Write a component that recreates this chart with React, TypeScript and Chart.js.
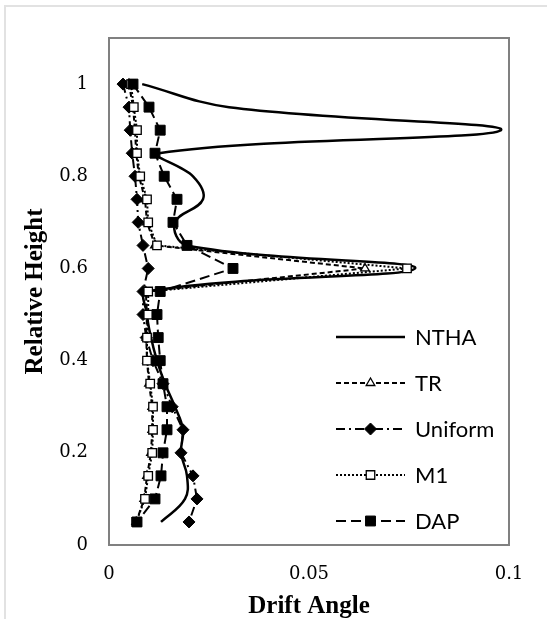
import React, { useEffect, useRef } from 'react';
import { Chart, registerables } from 'chart.js';
import { drawPoint } from 'chart.js/helpers';

Chart.register(...registerables);

// Relative heights (top to bottom)
const HEIGHTS = [1.0, 0.95, 0.9, 0.85, 0.8, 0.75, 0.7, 0.65, 0.6, 0.55, 0.5, 0.45, 0.4, 0.35, 0.3, 0.25, 0.2, 0.15, 0.1, 0.05];

// Drift angle per series
const NTHA = [0.0083, 0.030, 0.098, 0.0125, 0.021, 0.0235, 0.0165, 0.0195, 0.0765, 0.0095, 0.0095, 0.0105, 0.012, 0.014, 0.0165, 0.0185, 0.018, 0.0195, 0.019, 0.013];
const TR = [0.005, 0.006, 0.0065, 0.0068, 0.0075, 0.009, 0.0095, 0.0115, 0.064, 0.0092, 0.0095, 0.0093, 0.0095, 0.01, 0.0108, 0.0108, 0.0105, 0.0095, 0.0088, 0.0068];
const UNIFORM = [0.0035, 0.005, 0.0053, 0.0058, 0.0065, 0.007, 0.0073, 0.0085, 0.0098, 0.0085, 0.0085, 0.0093, 0.011, 0.0135, 0.0158, 0.0185, 0.018, 0.021, 0.022, 0.02];
const M1 = [0.0055, 0.0062, 0.007, 0.007, 0.0078, 0.0095, 0.0098, 0.012, 0.0745, 0.0098, 0.0098, 0.0095, 0.0095, 0.0103, 0.011, 0.011, 0.0108, 0.0098, 0.009, 0.0068];
const DAP = [0.006, 0.01, 0.0128, 0.0115, 0.0138, 0.017, 0.016, 0.0195, 0.031, 0.0128, 0.012, 0.0123, 0.0128, 0.0135, 0.0145, 0.0145, 0.0135, 0.013, 0.0115, 0.007];

const SERIES_NAMES = ['NTHA', 'TR', 'Uniform', 'M1', 'DAP'];
const X_TICKS = [0, 0.05, 0.1];
const Y_TICKS = [0, 0.2, 0.4, 0.6, 0.8, 1];
const X_TITLE = 'Drift Angle';
const Y_TITLE = 'Relative Height';

const toPts = (vals: number[]) => HEIGHTS.map((h, i) => ({ x: vals[i], y: h }));

const framePlugin = {
  id: 'frameBox',
  afterDraw(chart: any) {
    const { ctx, chartArea: a } = chart;
    ctx.save();
    ctx.strokeStyle = '#808080';
    ctx.lineWidth = 2;
    ctx.setLineDash([]);
    ctx.strokeRect(a.left, a.top, a.right - a.left, a.bottom - a.top);
    ctx.restore();
  },
};

const legendPlugin = {
  id: 'insideLegend',
  afterDraw(chart: any) {
    const { ctx, chartArea: a } = chart;
    const x0 = a.right - 173;
    const x1 = a.right - 104;
    const tx = a.right - 94;
    const y0 = a.top + 299;
    const step = 46;
    chart.data.datasets.forEach((ds: any, i: number) => {
      const y = y0 + i * step;
      ctx.save();
      ctx.strokeStyle = ds.borderColor;
      ctx.lineWidth = ds.borderWidth;
      ctx.setLineDash(ds.borderDash || []);
      ctx.beginPath();
      ctx.moveTo(x0, y);
      ctx.lineTo(x1, y);
      ctx.stroke();
      ctx.restore();
      if (ds.pointRadius > 0) {
        ctx.save();
        ctx.setLineDash([]);
        ctx.fillStyle = ds.pointBackgroundColor;
        ctx.strokeStyle = ds.pointBorderColor;
        ctx.lineWidth = ds.pointBorderWidth;
        drawPoint(ctx, { pointStyle: ds.pointStyle, radius: ds.pointRadius, borderWidth: ds.pointBorderWidth, rotation: 0 } as any, (x0 + x1) / 2, y);
        ctx.restore();
      }
      ctx.save();
      ctx.fillStyle = '#000';
      ctx.font = '22px Lato';
      ctx.textBaseline = 'middle';
      ctx.textAlign = 'left';
      ctx.fillText(ds.label, tx, y + 1);
      ctx.restore();
    });
  },
};

export default function App() {
  const ref = useRef<HTMLCanvasElement | null>(null);

  useEffect(() => {
    if (!ref.current) return;
    const datasets: any[] = [
      {
        label: SERIES_NAMES[0], data: toPts(NTHA), showLine: true, tension: 0.4,
        borderColor: '#000', borderWidth: 2.5, pointRadius: 0, order: 4,
      },
      {
        label: SERIES_NAMES[1], data: toPts(TR), showLine: true, tension: 0,
        borderColor: '#000', borderWidth: 2, borderDash: [5, 3],
        pointStyle: 'triangle', pointRadius: 5, pointBackgroundColor: '#fff', pointBorderColor: '#000', pointBorderWidth: 1.3, order: 3,
      },
      {
        label: SERIES_NAMES[2], data: toPts(UNIFORM), showLine: true, tension: 0,
        borderColor: '#000', borderWidth: 2, borderDash: [9, 4, 2, 4],
        pointStyle: 'rectRot', pointRadius: 6, pointBackgroundColor: '#000', pointBorderColor: '#000', pointBorderWidth: 1, order: 2,
      },
      {
        label: SERIES_NAMES[3], data: toPts(M1), showLine: true, tension: 0,
        borderColor: '#000', borderWidth: 2, borderDash: [2, 2],
        pointStyle: 'rect', pointRadius: 6, pointBackgroundColor: '#fff', pointBorderColor: '#000', pointBorderWidth: 1.3, order: 1,
      },
      {
        label: SERIES_NAMES[4], data: toPts(DAP), showLine: true, tension: 0,
        borderColor: '#000', borderWidth: 2, borderDash: [10, 5],
        pointStyle: 'rect', pointRadius: 7, pointBackgroundColor: '#000', pointBorderColor: '#000', pointBorderWidth: 1, order: 0,
      },
    ];

    const chart = new Chart(ref.current, {
      type: 'scatter',
      data: { datasets },
      options: {
        animation: false,
        responsive: false,
        devicePixelRatio: 1,
        layout: { padding: { top: 38, right: 38, left: 0, bottom: 0 } },
        plugins: { legend: { display: false }, tooltip: { enabled: false } },
        scales: {
          x: {
            type: 'linear', min: 0, max: 0.1,
            afterBuildTicks: (s: any) => { s.ticks = X_TICKS.map((v) => ({ value: v })); },
            afterFit: (s: any) => { s.height = 74; },
            grid: { display: false, drawTicks: false },
            border: { display: false },
            ticks: { padding: 19, color: '#000', font: { family: 'DejaVu Serif', size: 18 }, callback: (v: any) => String(v) },
            title: { display: true, text: X_TITLE, color: '#000', font: { family: 'Liberation Serif', size: 25, weight: 'bold', lineHeight: 1 }, padding: { top: 0, bottom: 0 } },
          },
          y: {
            type: 'linear', min: 0, max: 1.1,
            afterBuildTicks: (s: any) => { s.ticks = Y_TICKS.map((v) => ({ value: v })); },
            afterFit: (s: any) => { s.width = 109; },
            grid: { display: false, drawTicks: false },
            border: { display: false },
            ticks: { padding: 21, color: '#000', font: { family: 'DejaVu Serif', size: 18 }, callback: (v: any) => String(v) },
            title: { display: true, text: Y_TITLE, color: '#000', font: { family: 'Liberation Serif', size: 25, weight: 'bold', lineHeight: 1 }, padding: { top: 23, bottom: 0 } },
          },
        },
      } as any,
      plugins: [framePlugin, legendPlugin],
    });
    return () => chart.destroy();
  }, []);

  return (
    <div style={{ position: 'fixed', left: 0, top: 0, width: 547, height: 619, background: '#fff' }}>
      <div style={{ position: 'absolute', left: 4, top: 5, right: 0, bottom: 0, borderLeft: '2px solid #e2e2e2', borderTop: '2px solid #e2e2e2' }} />
      <canvas ref={ref} width={547} height={619} style={{ position: 'absolute', left: 0, top: 0 }} />
    </div>
  );
}
